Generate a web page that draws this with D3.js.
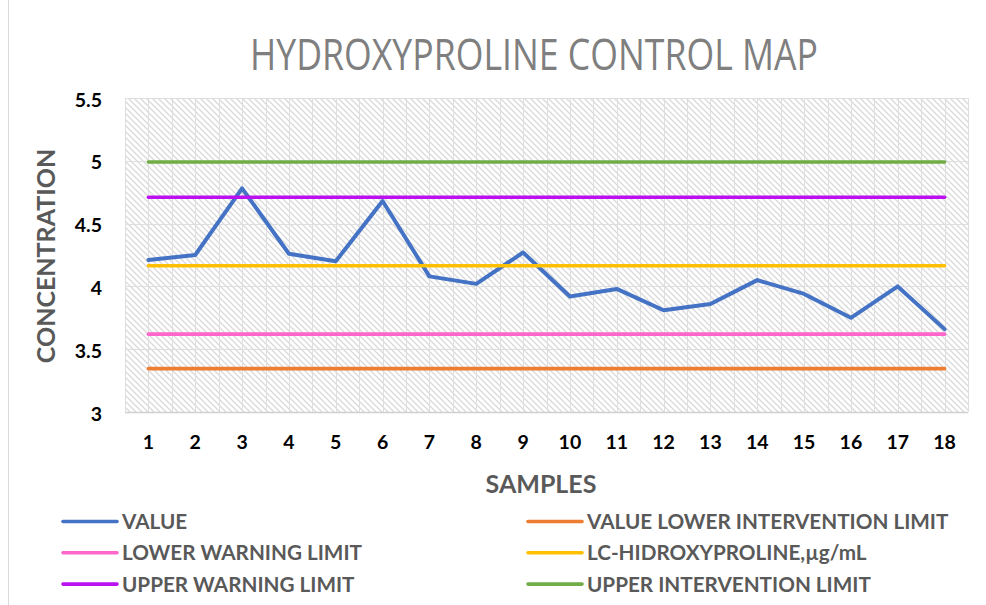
<!DOCTYPE html>
<html>
<head>
<meta charset="utf-8">
<script src="https://cdn.jsdelivr.net/npm/d3@7"></script>
<style>
  body { margin: 0; background: #fff; }
  svg { display: block; }
</style>
</head>
<body>
<svg width="986" height="605"></svg>
<script>
"use strict";

// Data
const samples = d3.range(1, 19);
const values = [4.21, 4.25, 4.78, 4.26, 4.20, 4.68, 4.08, 4.02, 4.27,
                3.92, 3.98, 3.81, 3.86, 4.05, 3.94, 3.75, 4.00, 3.66];
const limitNames = ["VALUE LOWER INTERVENTION LIMIT", "LOWER WARNING LIMIT",
  "LC-HIDROXYPROLINE,\u00b5g/mL", "UPPER WARNING LIMIT", "UPPER INTERVENTION LIMIT"];
const limitValues = [3.345, 3.62, 4.165, 4.71, 4.99];
const limitColors = ["#ed7d31", "#ff66cc", "#ffc000", "#bb10f0", "#70ad47"];
const yTicks = [3, 3.5, 4, 4.5, 5, 5.5];

// Legend order (row by row, two columns)
const legendItems = [
  { name: "VALUE", color: "#4472c4" },
  { name: limitNames[0], color: limitColors[0] },
  { name: limitNames[1], color: limitColors[1] },
  { name: limitNames[2], color: limitColors[2] },
  { name: limitNames[3], color: limitColors[3] },
  { name: limitNames[4], color: limitColors[4] }
];

// Sizes
const plot = { l: 125, r: 968, t: 98, b: 412 };
const font = "Lato, 'Open Sans', sans-serif";

const svg = d3.select("svg");

// chart border on the left
svg.append("line")
  .attr("x1", 8.5).attr("x2", 8.5).attr("y1", 0).attr("y2", 605)
  .attr("stroke", "#d9d9d9");

// Hatch pattern
const pat = svg.append("defs").append("pattern")
  .attr("id", "hatch")
  .attr("patternUnits", "userSpaceOnUse")
  .attr("width", 6).attr("height", 6);
pat.append("path")
  .attr("d", "M0,0 L6,6 M-1,5 L1,7 M5,-1 L7,1")
  .attr("stroke", "#d9d9d9")
  .attr("stroke-width", 1.3);

// Scales
const xScale = d3.scalePoint()
  .domain(samples)
  .range([plot.l, plot.r])
  .padding(0.5);

const xBand = d3.scaleBand()
  .domain(samples)
  .range([plot.l, plot.r]);

const yScale = d3.scaleLinear()
  .domain([3, 5.5])
  .range([plot.b, plot.t]);

// Plot background
svg.append("rect")
  .attr("x", plot.l).attr("y", plot.t)
  .attr("width", plot.r - plot.l).attr("height", plot.b - plot.t)
  .attr("fill", "url(#hatch)");

// Vertical gridlines (category edges and centres)
const vLines = samples.map(d => xBand(d)).concat(samples.map(d => xScale(d)), [plot.r]);
svg.append("g").selectAll("line")
  .data(vLines)
  .join("line")
    .attr("x1", d => Math.round(d) + 0.5).attr("x2", d => Math.round(d) + 0.5)
    .attr("y1", plot.t).attr("y2", plot.b)
    .attr("stroke", "#dedede");

// Horizontal gridlines
svg.append("g").selectAll("line")
  .data(yTicks)
  .join("line")
    .attr("x1", plot.l).attr("x2", plot.r)
    .attr("y1", d => Math.round(yScale(d)) + 0.5).attr("y2", d => Math.round(yScale(d)) + 0.5)
    .attr("stroke", "#dedede");

svg.append("line")
  .attr("x1", plot.l).attr("x2", plot.r)
  .attr("y1", plot.b + 0.5).attr("y2", plot.b + 0.5)
  .attr("stroke", "#d0d0d0").attr("stroke-width", 1.5);

// Y tick labels
svg.append("g").selectAll("text")
  .data(yTicks)
  .join("text")
    .attr("x", 102)
    .attr("y", d => yScale(d) + 8.5)
    .attr("text-anchor", "end")
    .attr("font-family", font).attr("font-weight", 700).attr("font-size", 19.5)
    .attr("fill", "#000")
    .text(d => d);

// X tick labels
svg.append("g").selectAll("text")
  .data(samples)
  .join("text")
    .attr("x", d => xScale(d))
    .attr("y", 449)
    .attr("text-anchor", "middle")
    .attr("font-family", font).attr("font-weight", 700).attr("font-size", 19.5)
    .attr("fill", "#000")
    .text(d => d);

// Value line
const line = d3.line()
  .x((d, i) => xScale(samples[i]))
  .y(d => yScale(d));

svg.append("path")
  .attr("d", line(values))
  .attr("fill", "none")
  .attr("stroke", "#4472c4")
  .attr("stroke-width", 4)
  .attr("stroke-linejoin", "round")
  .attr("stroke-linecap", "round");

// Limit lines
svg.append("g").selectAll("line")
  .data(limitValues)
  .join("line")
    .attr("x1", xScale(samples[0]))
    .attr("x2", xScale(samples[samples.length - 1]))
    .attr("y1", d => yScale(d)).attr("y2", d => yScale(d))
    .attr("stroke", (d, i) => limitColors[i])
    .attr("stroke-width", 3.6)
    .attr("stroke-linecap", "round");

// Title
svg.append("text")
  .attr("x", 534).attr("y", 70)
  .attr("text-anchor", "middle")
  .attr("font-family", "'Open Sans', sans-serif").attr("font-weight", 400).attr("font-size", 43)
  .attr("textLength", 568).attr("lengthAdjust", "spacingAndGlyphs")
  .attr("fill", "#7f7f7f")
  .text("HYDROXYPROLINE CONTROL MAP");

// Axis titles
svg.append("text")
  .attr("transform", "translate(55, 256) rotate(-90)")
  .attr("text-anchor", "middle")
  .attr("font-family", font).attr("font-weight", 700).attr("font-size", 25)
  .attr("fill", "#595959")
  .text("CONCENTRATION");

svg.append("text")
  .attr("x", 541).attr("y", 493)
  .attr("text-anchor", "middle")
  .attr("font-family", font).attr("font-weight", 700).attr("font-size", 25)
  .attr("fill", "#595959")
  .text("SAMPLES");

// Legend
const legend = svg.append("g").selectAll("g")
  .data(legendItems)
  .join("g")
    .attr("transform", (d, i) => `translate(${i % 2 ? 528 : 63}, ${521.5 + Math.floor(i / 2) * 31.3})`);

legend.append("line")
  .attr("x1", 0).attr("x2", 54)
  .attr("stroke", d => d.color)
  .attr("stroke-width", 3.6)
  .attr("stroke-linecap", "round");

legend.append("text")
  .attr("x", 59).attr("y", 7.5)
  .attr("font-family", font).attr("font-weight", 700).attr("font-size", 20.7)
  .attr("fill", "#595959")
  .text(d => d.name);
</script>
</body>
</html>
